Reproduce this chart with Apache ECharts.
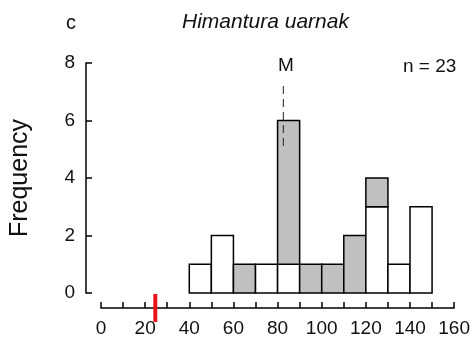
<!DOCTYPE html>
<html><head><meta charset="utf-8">
<script src="https://cdn.jsdelivr.net/npm/echarts@6/dist/echarts.min.js"></script>
<style>html,body{margin:0;padding:0;background:#fff}#c{width:473px;height:339px}</style>
</head><body><div id="c"></div>
<script>
// ---- data ----
const binStarts = [40, 50, 60, 70, 80, 90, 100, 110, 120, 130, 140];
const binWidth = 10;
const whiteCounts = [1, 2, 0, 1, 1, 0, 0, 0, 3, 1, 3];
const greyCounts  = [0, 0, 1, 0, 5, 1, 1, 2, 1, 0, 0];
const xTickValues = [0, 20, 40, 60, 80, 100, 120, 140, 160];
const yTickValues = [0, 2, 4, 6, 8];
const meanLength = 82.6;
const meanLineRange = [7.2, 5.07];
const maturityLength = 24.6;
const titleText = 'Himantura uarnak';
const panelLetter = 'c';
const sampleText = 'n = 23';
const meanLabel = 'M';
const yName = 'Frequency';

// ---- build ----
const FONT = 'Liberation Sans, Arial, Helvetica, sans-serif';
const barData = [];
binStarts.forEach((s, i) => {
  const w = whiteCounts[i], g = greyCounts[i];
  if (w > 0) barData.push([s, s + binWidth, 0, w, 0]);
  if (g > 0) barData.push([s, s + binWidth, w, w + g, 1]);
});
const fills = ['#ffffff', '#c0c0c0'];

const chart = echarts.init(document.getElementById('c'), null, {renderer: 'canvas'});
chart.setOption({
  animation: false,
  backgroundColor: '#fff',
  grid: {left: 98, right: 16, top: 63, bottom: 46},
  xAxis: {
    type: 'value', min: xTickValues[0], max: xTickValues[xTickValues.length - 1], interval: 10,
    offset: 15,
    axisLine: {show: true, onZero: false, lineStyle: {color: '#000', width: 1.5}},
    axisTick: {show: true, inside: true, length: 6, lineStyle: {color: '#000', width: 1.5}},
    axisLabel: {
      margin: 11, color: '#111', fontSize: 19, fontFamily: FONT,
      formatter: v => (xTickValues.indexOf(v) >= 0 ? String(v) : '')
    },
    splitLine: {show: false}
  },
  yAxis: {
    type: 'value', min: yTickValues[0], max: yTickValues[yTickValues.length - 1], interval: 2,
    offset: 15,
    name: yName, nameLocation: 'middle', nameGap: 53, nameRotate: 90,
    nameTextStyle: {fontSize: 25, color: '#111', fontFamily: FONT},
    axisLine: {show: true, onZero: false, lineStyle: {color: '#000', width: 1.5}},
    axisTick: {show: true, inside: true, length: 6, lineStyle: {color: '#000', width: 1.5}},
    axisLabel: {margin: 11, color: '#111', fontSize: 19, fontFamily: FONT},
    splitLine: {show: false}
  },
  graphic: [
    {type: 'text', left: 66, top: 13, style: {text: panelLetter, font: '20px ' + FONT, fill: '#111'}},
    {type: 'text', left: 182, top: 12, style: {text: titleText, font: 'italic 21px ' + FONT, fill: '#111'}},
    {type: 'text', left: 403, top: 57, style: {text: sampleText, font: '19px ' + FONT, fill: '#111'}},
    {type: 'text', left: 278, top: 56, style: {text: meanLabel, font: '19px ' + FONT, fill: '#111'}}
  ],
  series: [
    {
      type: 'custom', clip: false, z: 2,
      data: barData,
      renderItem: (params, api) => {
        const p0 = api.coord([api.value(0), api.value(2)]);
        const p1 = api.coord([api.value(1), api.value(3)]);
        return {
          type: 'rect',
          shape: {x: p0[0], y: p1[1], width: p1[0] - p0[0], height: p0[1] - p1[1]},
          style: {fill: fills[api.value(4)], stroke: '#000', lineWidth: 1.5}
        };
      }
    },
    {
      type: 'line', z: 5, symbol: 'none', silent: true,
      data: meanLineRange.map(v => [meanLength, v]),
      lineStyle: {color: '#222', width: 1, type: [8, 5]}
    },
    {
      type: 'custom', clip: false, z: 6,
      data: [[maturityLength]],
      renderItem: (params, api) => {
        const p = api.coord([api.value(0), 0]);
        return {
          type: 'line',
          shape: {x1: p[0], y1: p[1] + 1, x2: p[0], y2: p[1] + 29},
          style: {stroke: '#e8141c', lineWidth: 4}
        };
      }
    }
  ]
});
</script></body></html>
